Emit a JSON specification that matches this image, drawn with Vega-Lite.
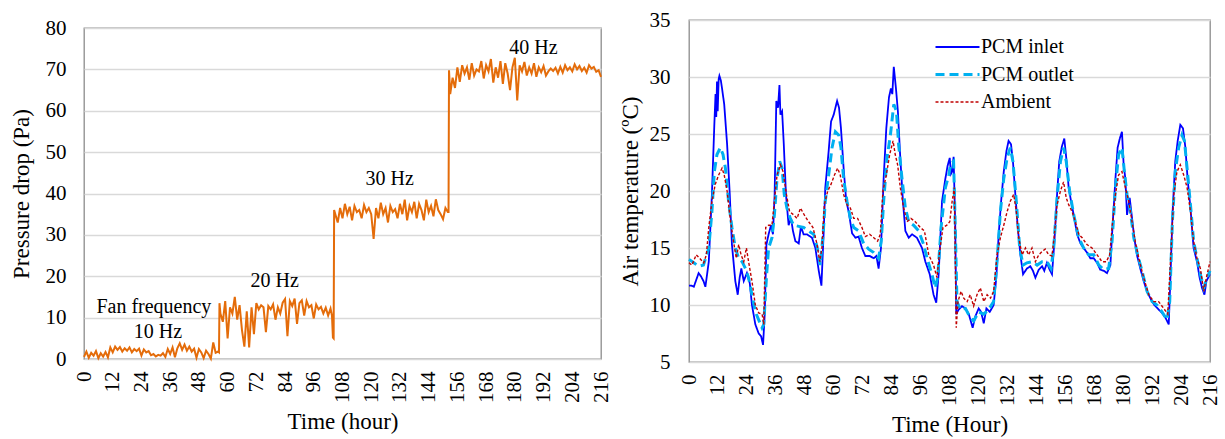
{
"$schema": "https://vega.github.io/schema/vega-lite/v6.json",
"background": "white",
"padding": {"left": 9, "top": 8, "right": 5, "bottom": 2},
"spacing": 6,
"resolve": {"scale": {"color": "independent", "strokeDash": "independent", "strokeWidth": "independent"}},
"config": {
  "font": "Liberation Serif",
  "view": {"stroke": "#8c8c8c", "strokeWidth": 1.3},
  "axis": {"labelFont": "Liberation Serif", "titleFont": "Liberation Serif", "labelFontSize": 21, "titleFontSize": 23, "titleFontWeight": "normal", "labelColor": "black", "titleColor": "black", "gridColor": "#d9d9d9", "gridWidth": 1.5, "domain": false, "ticks": false, "labelOverlap": false},
  "axisX": {"grid": false, "labelAngle": 270, "labelPadding": 12, "titlePadding": 8, "labelOverlap": false},
  "axisY": {"grid": true}
},
"datasets": {
  "pressure": [
{"t":0,"p":0.5},{"t":1,"p":1.8},{"t":2,"p":0.3},{"t":3,"p":1.5},{"t":4,"p":0.8},{"t":5,"p":1.9},{"t":6,"p":0.2},{"t":7,"p":1.4},{"t":8,"p":0.6},{"t":9,"p":1.7},{"t":10,"p":0.4},{"t":11,"p":2.8},{"t":12,"p":1.6},
{"t":13,"p":3.0},{"t":14,"p":2.2},{"t":15,"p":2.9},{"t":16,"p":1.8},{"t":17,"p":2.6},{"t":18,"p":2.0},{"t":19,"p":2.8},{"t":20,"p":1.6},{"t":21,"p":2.4},{"t":22,"p":1.9},{"t":23,"p":2.5},{"t":24,"p":0.8},{"t":25,"p":2.3},{"t":26,"p":1.6},{"t":27,"p":1.9},{"t":28,"p":0.9},{"t":29,"p":1.2},{"t":30,"p":0.6},{"t":31,"p":1.0},{"t":32,"p":0.8},{"t":33,"p":1.4},{"t":34,"p":0.5},{"t":35,"p":2.4},{"t":36,"p":1.2},{"t":37,"p":2.8},{"t":38,"p":0.4},{"t":39,"p":2.6},{"t":40,"p":3.8},{"t":41,"p":2.2},{"t":42,"p":3.5},{"t":43,"p":2.0},{"t":44,"p":3.0},{"t":45,"p":1.8},{"t":46,"p":2.5},{"t":47,"p":0.3},{"t":48,"p":2.4},{"t":49,"p":1.6},{"t":50,"p":0.2},{"t":51,"p":2.0},{"t":52,"p":1.2},{"t":53,"p":0.1},{"t":54,"p":4.0},{"t":55,"p":1.5},{"t":56,"p":1.8},{"t":56.4,"p":1.6},
{"t":56.6,"p":13.5},{"t":57,"p":11},{"t":58,"p":9},{"t":59,"p":14},{"t":60,"p":5},{"t":61,"p":12.5},{"t":62,"p":11},{"t":63,"p":15},{"t":64,"p":9.5},{"t":65,"p":13},{"t":66,"p":7},{"t":67,"p":3},{"t":68,"p":11.5},{"t":69,"p":2.8},{"t":70,"p":12.5},{"t":71,"p":6},{"t":72,"p":13.5},{"t":73,"p":12},{"t":74,"p":13},{"t":75,"p":12.5},{"t":76,"p":6.5},{"t":77,"p":12.8},{"t":78,"p":12},{"t":79,"p":13.2},{"t":80,"p":9.5},{"t":81,"p":12.5},{"t":82,"p":11},{"t":83,"p":13.6},{"t":84,"p":14.5},{"t":85,"p":5.5},{"t":86,"p":14},{"t":87,"p":12.8},{"t":88,"p":14.6},{"t":89,"p":8.5},{"t":90,"p":13.5},{"t":91,"p":14.2},{"t":92,"p":10.5},{"t":93,"p":14},{"t":94,"p":12.5},{"t":95,"p":13},{"t":96,"p":9.8},{"t":97,"p":13.2},{"t":98,"p":12},{"t":99,"p":12.6},{"t":100,"p":11},{"t":101,"p":12.4},{"t":102,"p":10.5},{"t":103,"p":12.2},{"t":103.6,"p":10.5},{"t":104,"p":5.2},{"t":104.3,"p":5.0},
{"t":104.5,"p":36},{"t":105,"p":35},{"t":106,"p":33},{"t":107,"p":36.5},{"t":108,"p":34},{"t":109,"p":37.5},{"t":110,"p":35},{"t":111,"p":36.8},{"t":112,"p":33.5},{"t":113,"p":37},{"t":114,"p":35.5},{"t":115,"p":36},{"t":116,"p":34},{"t":117,"p":37.2},{"t":118,"p":35.5},{"t":119,"p":36.5},{"t":120,"p":35},{"t":121,"p":29},{"t":122,"p":36.5},{"t":123,"p":34},{"t":124,"p":37.8},{"t":125,"p":35},{"t":126,"p":36.5},{"t":127,"p":33},{"t":128,"p":37},{"t":129,"p":35.5},{"t":130,"p":36.2},{"t":131,"p":34},{"t":132,"p":37.5},{"t":133,"p":35},{"t":134,"p":38.5},{"t":135,"p":33.5},{"t":136,"p":37},{"t":137,"p":35.5},{"t":138,"p":38},{"t":139,"p":34},{"t":140,"p":37.5},{"t":141,"p":36},{"t":142,"p":33.5},{"t":143,"p":38.5},{"t":144,"p":35.5},{"t":145,"p":37},{"t":146,"p":34.5},{"t":147,"p":38.6},{"t":148,"p":36},{"t":149,"p":35},{"t":150,"p":33.8},{"t":151,"p":36.5},{"t":152,"p":35.5},{"t":152.3,"p":35.5},
{"t":152.5,"p":69.8},{"t":153,"p":64},{"t":154,"p":68},{"t":155,"p":65.5},{"t":156,"p":70.5},{"t":157,"p":67},{"t":158,"p":71},{"t":159,"p":69},{"t":160,"p":70.5},{"t":161,"p":67.5},{"t":162,"p":71.5},{"t":163,"p":68.5},{"t":164,"p":70},{"t":165,"p":69.5},{"t":166,"p":72},{"t":167,"p":67.8},{"t":168,"p":71},{"t":169,"p":69.5},{"t":170,"p":72.5},{"t":171,"p":66.8},{"t":172,"p":70.5},{"t":173,"p":68},{"t":174,"p":72},{"t":175,"p":66.5},{"t":176,"p":71.5},{"t":177,"p":69},{"t":178,"p":65},{"t":179,"p":70.5},{"t":180,"p":72.8},{"t":181,"p":62.5},{"t":182,"p":71},{"t":183,"p":69.5},{"t":184,"p":71.8},{"t":185,"p":68.5},{"t":186,"p":70.5},{"t":187,"p":69},{"t":188,"p":71.5},{"t":189,"p":68.2},{"t":190,"p":70.5},{"t":191,"p":69.3},{"t":192,"p":70.8},{"t":193,"p":68.5},{"t":194,"p":69.5},{"t":195,"p":70.2},{"t":196,"p":69.6},{"t":197,"p":70.4},{"t":198,"p":69},{"t":199,"p":70.6},{"t":200,"p":69.2},{"t":201,"p":71},{"t":202,"p":69.8},{"t":203,"p":70.5},{"t":204,"p":69.5},{"t":205,"p":71.2},{"t":206,"p":70},{"t":207,"p":70.8},{"t":208,"p":69.6},{"t":209,"p":70.4},{"t":210,"p":69.2},{"t":211,"p":71},{"t":212,"p":70.2},{"t":213,"p":70.6},{"t":214,"p":69.4},{"t":215,"p":69.8},{"t":216,"p":68.2}
  ],
  "notes": [
{"t":29.2,"p":12.6,"label":"Fan frequency"},{"t":30.9,"p":6.5,"label":"10 Hz"},{"t":79.7,"p":18.9,"label":"20 Hz"},{"t":127.7,"p":43.4,"label":"30 Hz"},{"t":187.8,"p":75.2,"label":"40 Hz"}
  ],
  "temps": [
{"t":0,"v":11.7,"s":"PCM inlet"},{"t":1,"v":11.7,"s":"PCM inlet"},{"t":2,"v":11.6,"s":"PCM inlet"},{"t":3,"v":12.2,"s":"PCM inlet"},{"t":4,"v":12.8,"s":"PCM inlet"},{"t":5,"v":12.5,"s":"PCM inlet"},{"t":6,"v":12.1,"s":"PCM inlet"},{"t":6.8,"v":11.6,"s":"PCM inlet"},{"t":8.2,"v":13.8,"s":"PCM inlet"},{"t":9.5,"v":19.7,"s":"PCM inlet"},{"t":10.5,"v":25.8,"s":"PCM inlet"},{"t":11,"v":28.5,"s":"PCM inlet"},{"t":11.3,"v":26.5,"s":"PCM inlet"},{"t":11.6,"v":29.6,"s":"PCM inlet"},{"t":11.9,"v":27.0,"s":"PCM inlet"},{"t":12.3,"v":29.8,"s":"PCM inlet"},{"t":12.6,"v":30.1,"s":"PCM inlet"},{"t":13.2,"v":29.7,"s":"PCM inlet"},{"t":13.7,"v":29.0,"s":"PCM inlet"},{"t":14.6,"v":27.6,"s":"PCM inlet"},{"t":15.8,"v":24.1,"s":"PCM inlet"},{"t":16.9,"v":19.7,"s":"PCM inlet"},{"t":17.8,"v":15.3,"s":"PCM inlet"},{"t":19.2,"v":12.1,"s":"PCM inlet"},{"t":20.2,"v":10.9,"s":"PCM inlet"},{"t":21,"v":12.4,"s":"PCM inlet"},{"t":21.7,"v":13.2,"s":"PCM inlet"},{"t":22.7,"v":12.1,"s":"PCM inlet"},{"t":24,"v":12.8,"s":"PCM inlet"},{"t":25.2,"v":11.9,"s":"PCM inlet"},{"t":26.1,"v":10.0,"s":"PCM inlet"},{"t":27.5,"v":8.3,"s":"PCM inlet"},{"t":28.9,"v":7.5,"s":"PCM inlet"},{"t":29.9,"v":7.25,"s":"PCM inlet"},{"t":30.7,"v":6.5,"s":"PCM inlet"},{"t":31.4,"v":9.2,"s":"PCM inlet"},{"t":32.1,"v":15.3,"s":"PCM inlet"},{"t":33,"v":16.2,"s":"PCM inlet"},{"t":34,"v":17.0,"s":"PCM inlet"},{"t":34.8,"v":16.2,"s":"PCM inlet"},{"t":35.5,"v":19.7,"s":"PCM inlet"},{"t":36.2,"v":27.9,"s":"PCM inlet"},{"t":36.9,"v":27.3,"s":"PCM inlet"},{"t":37.5,"v":29.3,"s":"PCM inlet"},{"t":37.9,"v":26.7,"s":"PCM inlet"},{"t":38.6,"v":27.0,"s":"PCM inlet"},{"t":39.3,"v":24.1,"s":"PCM inlet"},{"t":40.2,"v":19.7,"s":"PCM inlet"},{"t":41.3,"v":17.0,"s":"PCM inlet"},{"t":42.3,"v":17.6,"s":"PCM inlet"},{"t":43.1,"v":16.5,"s":"PCM inlet"},{"t":44.1,"v":15.6,"s":"PCM inlet"},{"t":45.5,"v":15.4,"s":"PCM inlet"},{"t":46.4,"v":16.9,"s":"PCM inlet"},{"t":47.5,"v":16.2,"s":"PCM inlet"},{"t":48.9,"v":16.2,"s":"PCM inlet"},{"t":51,"v":15.9,"s":"PCM inlet"},{"t":52.4,"v":15.0,"s":"PCM inlet"},{"t":53.8,"v":13.0,"s":"PCM inlet"},{"t":54.9,"v":11.7,"s":"PCM inlet"},{"t":55.8,"v":16.2,"s":"PCM inlet"},{"t":56.5,"v":20.3,"s":"PCM inlet"},{"t":57.9,"v":23.5,"s":"PCM inlet"},{"t":58.9,"v":26.1,"s":"PCM inlet"},{"t":60,"v":26.7,"s":"PCM inlet"},{"t":61.4,"v":27.9,"s":"PCM inlet"},{"t":62.2,"v":27.3,"s":"PCM inlet"},{"t":63,"v":25.5,"s":"PCM inlet"},{"t":64.1,"v":22.0,"s":"PCM inlet"},{"t":65.2,"v":19.1,"s":"PCM inlet"},{"t":66.2,"v":18.2,"s":"PCM inlet"},{"t":67.6,"v":16.3,"s":"PCM inlet"},{"t":69,"v":15.9,"s":"PCM inlet"},{"t":70.3,"v":16.0,"s":"PCM inlet"},{"t":71.7,"v":15.0,"s":"PCM inlet"},{"t":73.1,"v":14.3,"s":"PCM inlet"},{"t":74.9,"v":14.3,"s":"PCM inlet"},{"t":76.6,"v":14.1,"s":"PCM inlet"},{"t":77.7,"v":14.3,"s":"PCM inlet"},{"t":78.6,"v":13.2,"s":"PCM inlet"},{"t":79.6,"v":15.0,"s":"PCM inlet"},{"t":80.7,"v":21.1,"s":"PCM inlet"},{"t":81.8,"v":25.5,"s":"PCM inlet"},{"t":82.9,"v":28.2,"s":"PCM inlet"},{"t":83.7,"v":29.0,"s":"PCM inlet"},{"t":84.3,"v":28.5,"s":"PCM inlet"},{"t":84.9,"v":30.9,"s":"PCM inlet"},{"t":85.8,"v":29.0,"s":"PCM inlet"},{"t":86.6,"v":27.0,"s":"PCM inlet"},{"t":87.6,"v":22.9,"s":"PCM inlet"},{"t":88.7,"v":19.1,"s":"PCM inlet"},{"t":89.7,"v":16.5,"s":"PCM inlet"},{"t":91.1,"v":15.9,"s":"PCM inlet"},{"t":92.5,"v":16.2,"s":"PCM inlet"},{"t":94.5,"v":15.9,"s":"PCM inlet"},{"t":96.6,"v":15.0,"s":"PCM inlet"},{"t":98,"v":13.8,"s":"PCM inlet"},{"t":99.8,"v":12.7,"s":"PCM inlet"},{"t":101.4,"v":10.9,"s":"PCM inlet"},{"t":102.5,"v":10.2,"s":"PCM inlet"},{"t":103.5,"v":12.7,"s":"PCM inlet"},{"t":104.9,"v":19.1,"s":"PCM inlet"},{"t":106.3,"v":21.1,"s":"PCM inlet"},{"t":107.2,"v":22.2,"s":"PCM inlet"},{"t":108.1,"v":22.9,"s":"PCM inlet"},{"t":108.6,"v":21.5,"s":"PCM inlet"},{"t":109.1,"v":21.7,"s":"PCM inlet"},{"t":109.7,"v":23.0,"s":"PCM inlet"},{"t":110.4,"v":16.8,"s":"PCM inlet"},{"t":110.8,"v":9.2,"s":"PCM inlet"},{"t":111.8,"v":9.6,"s":"PCM inlet"},{"t":113.2,"v":9.9,"s":"PCM inlet"},{"t":114.6,"v":9.7,"s":"PCM inlet"},{"t":116,"v":9.2,"s":"PCM inlet"},{"t":117.6,"v":8.0,"s":"PCM inlet"},{"t":118.7,"v":9.0,"s":"PCM inlet"},{"t":120.1,"v":9.7,"s":"PCM inlet"},{"t":121.1,"v":9.4,"s":"PCM inlet"},{"t":122.2,"v":8.4,"s":"PCM inlet"},{"t":123.3,"v":9.7,"s":"PCM inlet"},{"t":124.7,"v":9.4,"s":"PCM inlet"},{"t":126.3,"v":10.0,"s":"PCM inlet"},{"t":127.4,"v":12.4,"s":"PCM inlet"},{"t":128.4,"v":16.2,"s":"PCM inlet"},{"t":129.4,"v":19.1,"s":"PCM inlet"},{"t":130.5,"v":21.7,"s":"PCM inlet"},{"t":131.6,"v":23.5,"s":"PCM inlet"},{"t":132.5,"v":24.4,"s":"PCM inlet"},{"t":133.5,"v":24.1,"s":"PCM inlet"},{"t":134.3,"v":22.6,"s":"PCM inlet"},{"t":135.3,"v":19.7,"s":"PCM inlet"},{"t":136.3,"v":16.8,"s":"PCM inlet"},{"t":137.4,"v":14.4,"s":"PCM inlet"},{"t":138.5,"v":12.7,"s":"PCM inlet"},{"t":140.1,"v":13.2,"s":"PCM inlet"},{"t":141.5,"v":13.4,"s":"PCM inlet"},{"t":142.6,"v":13.0,"s":"PCM inlet"},{"t":143.6,"v":12.4,"s":"PCM inlet"},{"t":145,"v":13.1,"s":"PCM inlet"},{"t":146.4,"v":13.4,"s":"PCM inlet"},{"t":147.3,"v":13.0,"s":"PCM inlet"},{"t":148.4,"v":13.7,"s":"PCM inlet"},{"t":149.5,"v":13.1,"s":"PCM inlet"},{"t":150.5,"v":12.7,"s":"PCM inlet"},{"t":151.5,"v":15.6,"s":"PCM inlet"},{"t":152.6,"v":19.7,"s":"PCM inlet"},{"t":153.5,"v":22.6,"s":"PCM inlet"},{"t":154.6,"v":23.9,"s":"PCM inlet"},{"t":155.6,"v":24.6,"s":"PCM inlet"},{"t":156.4,"v":22.9,"s":"PCM inlet"},{"t":157.4,"v":20.3,"s":"PCM inlet"},{"t":158.4,"v":19.1,"s":"PCM inlet"},{"t":159.5,"v":17.9,"s":"PCM inlet"},{"t":160.9,"v":16.2,"s":"PCM inlet"},{"t":162.3,"v":15.4,"s":"PCM inlet"},{"t":163.6,"v":15.0,"s":"PCM inlet"},{"t":165,"v":14.6,"s":"PCM inlet"},{"t":166.4,"v":14.1,"s":"PCM inlet"},{"t":167.8,"v":14.1,"s":"PCM inlet"},{"t":169.2,"v":13.7,"s":"PCM inlet"},{"t":170.5,"v":13.1,"s":"PCM inlet"},{"t":172,"v":13.0,"s":"PCM inlet"},{"t":173.3,"v":12.8,"s":"PCM inlet"},{"t":174.7,"v":13.5,"s":"PCM inlet"},{"t":175.4,"v":16.2,"s":"PCM inlet"},{"t":176.8,"v":21.1,"s":"PCM inlet"},{"t":177.7,"v":23.8,"s":"PCM inlet"},{"t":178.6,"v":24.6,"s":"PCM inlet"},{"t":179.5,"v":25.2,"s":"PCM inlet"},{"t":180.2,"v":22.3,"s":"PCM inlet"},{"t":180.9,"v":21.1,"s":"PCM inlet"},{"t":181.6,"v":17.9,"s":"PCM inlet"},{"t":182.7,"v":19.4,"s":"PCM inlet"},{"t":183.7,"v":17.6,"s":"PCM inlet"},{"t":184.6,"v":15.9,"s":"PCM inlet"},{"t":185.7,"v":14.4,"s":"PCM inlet"},{"t":187.1,"v":13.2,"s":"PCM inlet"},{"t":188.5,"v":12.1,"s":"PCM inlet"},{"t":189.9,"v":11.2,"s":"PCM inlet"},{"t":191.5,"v":10.5,"s":"PCM inlet"},{"t":192.9,"v":10.0,"s":"PCM inlet"},{"t":194.3,"v":9.7,"s":"PCM inlet"},{"t":196.1,"v":9.3,"s":"PCM inlet"},{"t":197.5,"v":8.9,"s":"PCM inlet"},{"t":198.9,"v":8.3,"s":"PCM inlet"},{"t":199.6,"v":12.4,"s":"PCM inlet"},{"t":200.5,"v":18.2,"s":"PCM inlet"},{"t":201.6,"v":22.6,"s":"PCM inlet"},{"t":202.6,"v":24.4,"s":"PCM inlet"},{"t":203.7,"v":25.8,"s":"PCM inlet"},{"t":204.8,"v":25.5,"s":"PCM inlet"},{"t":205.8,"v":23.8,"s":"PCM inlet"},{"t":206.7,"v":21.1,"s":"PCM inlet"},{"t":207.9,"v":18.5,"s":"PCM inlet"},{"t":209.2,"v":15.0,"s":"PCM inlet"},{"t":210.6,"v":13.8,"s":"PCM inlet"},{"t":211.7,"v":12.4,"s":"PCM inlet"},{"t":212.7,"v":11.5,"s":"PCM inlet"},{"t":213.7,"v":10.9,"s":"PCM inlet"},{"t":214.5,"v":12.1,"s":"PCM inlet"},{"t":215.5,"v":12.5,"s":"PCM inlet"},{"t":216,"v":12.7,"s":"PCM inlet"},
{"t":0,"v":14.0,"s":"PCM outlet"},{"t":2,"v":13.7,"s":"PCM outlet"},{"t":4,"v":13.4,"s":"PCM outlet"},{"t":6,"v":13.5,"s":"PCM outlet"},{"t":8.2,"v":15.0,"s":"PCM outlet"},{"t":9.5,"v":18.2,"s":"PCM outlet"},{"t":10.5,"v":21.7,"s":"PCM outlet"},{"t":11.6,"v":23.2,"s":"PCM outlet"},{"t":13,"v":23.8,"s":"PCM outlet"},{"t":14.1,"v":23.2,"s":"PCM outlet"},{"t":15.1,"v":22.0,"s":"PCM outlet"},{"t":16.4,"v":19.1,"s":"PCM outlet"},{"t":17.8,"v":16.8,"s":"PCM outlet"},{"t":19.2,"v":15.0,"s":"PCM outlet"},{"t":20.6,"v":14.1,"s":"PCM outlet"},{"t":22,"v":13.8,"s":"PCM outlet"},{"t":23.4,"v":13.2,"s":"PCM outlet"},{"t":24.7,"v":12.4,"s":"PCM outlet"},{"t":26.1,"v":10.9,"s":"PCM outlet"},{"t":27.5,"v":9.4,"s":"PCM outlet"},{"t":28.9,"v":8.7,"s":"PCM outlet"},{"t":30.3,"v":8.0,"s":"PCM outlet"},{"t":31,"v":8.3,"s":"PCM outlet"},{"t":32.1,"v":12.4,"s":"PCM outlet"},{"t":33,"v":15.0,"s":"PCM outlet"},{"t":34.4,"v":15.9,"s":"PCM outlet"},{"t":35.4,"v":17.9,"s":"PCM outlet"},{"t":36.5,"v":21.1,"s":"PCM outlet"},{"t":37.6,"v":22.6,"s":"PCM outlet"},{"t":38.6,"v":22.0,"s":"PCM outlet"},{"t":39.5,"v":19.7,"s":"PCM outlet"},{"t":40.6,"v":18.5,"s":"PCM outlet"},{"t":42,"v":17.6,"s":"PCM outlet"},{"t":43.4,"v":17.0,"s":"PCM outlet"},{"t":45.5,"v":16.9,"s":"PCM outlet"},{"t":47.5,"v":16.8,"s":"PCM outlet"},{"t":49.6,"v":16.5,"s":"PCM outlet"},{"t":51.7,"v":16.2,"s":"PCM outlet"},{"t":53.1,"v":15.1,"s":"PCM outlet"},{"t":54.4,"v":13.5,"s":"PCM outlet"},{"t":55.6,"v":16.2,"s":"PCM outlet"},{"t":56.5,"v":19.1,"s":"PCM outlet"},{"t":57.9,"v":21.4,"s":"PCM outlet"},{"t":59.3,"v":23.8,"s":"PCM outlet"},{"t":60.7,"v":25.2,"s":"PCM outlet"},{"t":62.1,"v":24.9,"s":"PCM outlet"},{"t":63,"v":23.8,"s":"PCM outlet"},{"t":64.1,"v":21.1,"s":"PCM outlet"},{"t":65.5,"v":19.1,"s":"PCM outlet"},{"t":66.9,"v":17.6,"s":"PCM outlet"},{"t":68.3,"v":16.8,"s":"PCM outlet"},{"t":70.3,"v":16.5,"s":"PCM outlet"},{"t":72.4,"v":15.4,"s":"PCM outlet"},{"t":74.5,"v":14.9,"s":"PCM outlet"},{"t":76.6,"v":14.6,"s":"PCM outlet"},{"t":78.6,"v":14.1,"s":"PCM outlet"},{"t":79.7,"v":15.6,"s":"PCM outlet"},{"t":80.7,"v":19.1,"s":"PCM outlet"},{"t":82.1,"v":22.9,"s":"PCM outlet"},{"t":83.5,"v":24.9,"s":"PCM outlet"},{"t":84.9,"v":27.6,"s":"PCM outlet"},{"t":86,"v":27.0,"s":"PCM outlet"},{"t":86.9,"v":24.1,"s":"PCM outlet"},{"t":88.3,"v":21.1,"s":"PCM outlet"},{"t":89.7,"v":18.5,"s":"PCM outlet"},{"t":91.1,"v":17.3,"s":"PCM outlet"},{"t":93.1,"v":17.0,"s":"PCM outlet"},{"t":95.2,"v":16.5,"s":"PCM outlet"},{"t":97.3,"v":15.3,"s":"PCM outlet"},{"t":98.7,"v":14.1,"s":"PCM outlet"},{"t":100.7,"v":12.7,"s":"PCM outlet"},{"t":102.1,"v":11.5,"s":"PCM outlet"},{"t":103.1,"v":12.4,"s":"PCM outlet"},{"t":104.5,"v":16.8,"s":"PCM outlet"},{"t":106.3,"v":20.3,"s":"PCM outlet"},{"t":107.7,"v":21.4,"s":"PCM outlet"},{"t":108.4,"v":22.3,"s":"PCM outlet"},{"t":109.7,"v":22.6,"s":"PCM outlet"},{"t":110.4,"v":16.8,"s":"PCM outlet"},{"t":111.1,"v":10.3,"s":"PCM outlet"},{"t":112.5,"v":9.6,"s":"PCM outlet"},{"t":114.6,"v":9.7,"s":"PCM outlet"},{"t":116.6,"v":8.9,"s":"PCM outlet"},{"t":118,"v":8.6,"s":"PCM outlet"},{"t":120.1,"v":9.4,"s":"PCM outlet"},{"t":122.2,"v":9.2,"s":"PCM outlet"},{"t":124.2,"v":9.6,"s":"PCM outlet"},{"t":126.3,"v":10.3,"s":"PCM outlet"},{"t":127.7,"v":13.8,"s":"PCM outlet"},{"t":129.1,"v":18.2,"s":"PCM outlet"},{"t":130.5,"v":21.1,"s":"PCM outlet"},{"t":131.9,"v":22.9,"s":"PCM outlet"},{"t":133.2,"v":23.8,"s":"PCM outlet"},{"t":134.3,"v":22.6,"s":"PCM outlet"},{"t":135.7,"v":19.1,"s":"PCM outlet"},{"t":137.1,"v":15.0,"s":"PCM outlet"},{"t":138.5,"v":13.5,"s":"PCM outlet"},{"t":140.1,"v":13.7,"s":"PCM outlet"},{"t":142.2,"v":13.8,"s":"PCM outlet"},{"t":144.3,"v":13.5,"s":"PCM outlet"},{"t":146.4,"v":13.8,"s":"PCM outlet"},{"t":148.4,"v":13.8,"s":"PCM outlet"},{"t":150.1,"v":13.2,"s":"PCM outlet"},{"t":151.2,"v":15.0,"s":"PCM outlet"},{"t":152.6,"v":19.4,"s":"PCM outlet"},{"t":154,"v":22.6,"s":"PCM outlet"},{"t":155.3,"v":23.8,"s":"PCM outlet"},{"t":156.4,"v":22.6,"s":"PCM outlet"},{"t":157.8,"v":20.0,"s":"PCM outlet"},{"t":159.5,"v":17.9,"s":"PCM outlet"},{"t":161.6,"v":15.9,"s":"PCM outlet"},{"t":163.6,"v":15.0,"s":"PCM outlet"},{"t":165.7,"v":14.4,"s":"PCM outlet"},{"t":167.8,"v":14.4,"s":"PCM outlet"},{"t":169.9,"v":13.5,"s":"PCM outlet"},{"t":172,"v":13.1,"s":"PCM outlet"},{"t":174,"v":13.2,"s":"PCM outlet"},{"t":175.4,"v":15.6,"s":"PCM outlet"},{"t":176.8,"v":20.3,"s":"PCM outlet"},{"t":178.1,"v":23.2,"s":"PCM outlet"},{"t":179.5,"v":23.8,"s":"PCM outlet"},{"t":180.5,"v":21.7,"s":"PCM outlet"},{"t":181.6,"v":19.7,"s":"PCM outlet"},{"t":183,"v":18.2,"s":"PCM outlet"},{"t":184.4,"v":15.9,"s":"PCM outlet"},{"t":186,"v":14.4,"s":"PCM outlet"},{"t":187.8,"v":13.0,"s":"PCM outlet"},{"t":189.9,"v":11.2,"s":"PCM outlet"},{"t":192,"v":10.3,"s":"PCM outlet"},{"t":194,"v":10.0,"s":"PCM outlet"},{"t":196.1,"v":9.4,"s":"PCM outlet"},{"t":198.2,"v":8.7,"s":"PCM outlet"},{"t":199.3,"v":10.3,"s":"PCM outlet"},{"t":200.4,"v":17.3,"s":"PCM outlet"},{"t":201.6,"v":21.7,"s":"PCM outlet"},{"t":203,"v":23.8,"s":"PCM outlet"},{"t":204.4,"v":24.9,"s":"PCM outlet"},{"t":205.4,"v":24.4,"s":"PCM outlet"},{"t":206.5,"v":22.0,"s":"PCM outlet"},{"t":207.9,"v":18.8,"s":"PCM outlet"},{"t":209.2,"v":15.6,"s":"PCM outlet"},{"t":210.6,"v":14.1,"s":"PCM outlet"},{"t":212,"v":12.7,"s":"PCM outlet"},{"t":213.4,"v":11.5,"s":"PCM outlet"},{"t":214.8,"v":12.4,"s":"PCM outlet"},{"t":216,"v":13.0,"s":"PCM outlet"},
{"t":0,"v":13.7,"s":"Ambient"},{"t":1.2,"v":13.5,"s":"Ambient"},{"t":3,"v":14.4,"s":"Ambient"},{"t":4.4,"v":14.1,"s":"Ambient"},{"t":6.1,"v":13.7,"s":"Ambient"},{"t":7.2,"v":14.4,"s":"Ambient"},{"t":8.2,"v":16.8,"s":"Ambient"},{"t":9.5,"v":19.1,"s":"Ambient"},{"t":10.9,"v":20.6,"s":"Ambient"},{"t":12.3,"v":21.4,"s":"Ambient"},{"t":13.7,"v":22.0,"s":"Ambient"},{"t":14.6,"v":21.4,"s":"Ambient"},{"t":15.8,"v":20.0,"s":"Ambient"},{"t":16.9,"v":17.9,"s":"Ambient"},{"t":18.2,"v":15.9,"s":"Ambient"},{"t":19.6,"v":14.1,"s":"Ambient"},{"t":20.6,"v":15.3,"s":"Ambient"},{"t":21.6,"v":14.4,"s":"Ambient"},{"t":22.7,"v":13.8,"s":"Ambient"},{"t":23.8,"v":15.0,"s":"Ambient"},{"t":24.7,"v":13.8,"s":"Ambient"},{"t":26.1,"v":12.1,"s":"Ambient"},{"t":27.5,"v":10.0,"s":"Ambient"},{"t":28.9,"v":9.3,"s":"Ambient"},{"t":30.3,"v":9.2,"s":"Ambient"},{"t":31,"v":8.3,"s":"Ambient"},{"t":31.8,"v":16.8,"s":"Ambient"},{"t":33,"v":17.0,"s":"Ambient"},{"t":34.4,"v":17.0,"s":"Ambient"},{"t":35.4,"v":19.1,"s":"Ambient"},{"t":36.5,"v":21.4,"s":"Ambient"},{"t":37.9,"v":22.3,"s":"Ambient"},{"t":39,"v":21.7,"s":"Ambient"},{"t":40.4,"v":19.7,"s":"Ambient"},{"t":41.7,"v":18.2,"s":"Ambient"},{"t":43.4,"v":17.9,"s":"Ambient"},{"t":44.8,"v":17.6,"s":"Ambient"},{"t":46.2,"v":18.5,"s":"Ambient"},{"t":47.8,"v":17.9,"s":"Ambient"},{"t":49.6,"v":17.3,"s":"Ambient"},{"t":51.4,"v":16.8,"s":"Ambient"},{"t":53.1,"v":15.3,"s":"Ambient"},{"t":54.2,"v":13.8,"s":"Ambient"},{"t":55.1,"v":15.0,"s":"Ambient"},{"t":56.1,"v":18.8,"s":"Ambient"},{"t":57.5,"v":20.0,"s":"Ambient"},{"t":58.9,"v":20.6,"s":"Ambient"},{"t":60.3,"v":21.4,"s":"Ambient"},{"t":61.6,"v":22.0,"s":"Ambient"},{"t":62.7,"v":21.4,"s":"Ambient"},{"t":64.1,"v":19.7,"s":"Ambient"},{"t":65.5,"v":18.8,"s":"Ambient"},{"t":66.9,"v":18.5,"s":"Ambient"},{"t":68.3,"v":17.6,"s":"Ambient"},{"t":69.9,"v":17.6,"s":"Ambient"},{"t":71.7,"v":16.8,"s":"Ambient"},{"t":73.1,"v":16.0,"s":"Ambient"},{"t":74.9,"v":16.2,"s":"Ambient"},{"t":76.6,"v":15.9,"s":"Ambient"},{"t":78.2,"v":15.6,"s":"Ambient"},{"t":79.3,"v":16.2,"s":"Ambient"},{"t":80.4,"v":20.0,"s":"Ambient"},{"t":81.8,"v":21.4,"s":"Ambient"},{"t":83.2,"v":23.2,"s":"Ambient"},{"t":84.6,"v":24.4,"s":"Ambient"},{"t":85.5,"v":23.2,"s":"Ambient"},{"t":86.5,"v":22.3,"s":"Ambient"},{"t":87.6,"v":20.3,"s":"Ambient"},{"t":89,"v":18.5,"s":"Ambient"},{"t":90.4,"v":17.3,"s":"Ambient"},{"t":92,"v":17.6,"s":"Ambient"},{"t":93.8,"v":17.3,"s":"Ambient"},{"t":95.9,"v":16.8,"s":"Ambient"},{"t":97.6,"v":16.5,"s":"Ambient"},{"t":99.4,"v":14.4,"s":"Ambient"},{"t":101.4,"v":13.5,"s":"Ambient"},{"t":102.8,"v":12.4,"s":"Ambient"},{"t":103.9,"v":14.7,"s":"Ambient"},{"t":105.3,"v":16.8,"s":"Ambient"},{"t":106.9,"v":17.0,"s":"Ambient"},{"t":108.1,"v":17.3,"s":"Ambient"},{"t":109.1,"v":19.1,"s":"Ambient"},{"t":110,"v":20.3,"s":"Ambient"},{"t":110.4,"v":13.8,"s":"Ambient"},{"t":110.8,"v":8.0,"s":"Ambient"},{"t":111.5,"v":10.3,"s":"Ambient"},{"t":112.8,"v":11.2,"s":"Ambient"},{"t":113.9,"v":10.6,"s":"Ambient"},{"t":115.3,"v":10.3,"s":"Ambient"},{"t":116.6,"v":10.9,"s":"Ambient"},{"t":118,"v":9.9,"s":"Ambient"},{"t":119.4,"v":10.9,"s":"Ambient"},{"t":120.8,"v":11.5,"s":"Ambient"},{"t":122.2,"v":10.3,"s":"Ambient"},{"t":123.6,"v":10.9,"s":"Ambient"},{"t":125,"v":10.6,"s":"Ambient"},{"t":126.3,"v":11.2,"s":"Ambient"},{"t":127.7,"v":14.4,"s":"Ambient"},{"t":129.1,"v":15.9,"s":"Ambient"},{"t":130.5,"v":17.0,"s":"Ambient"},{"t":131.9,"v":18.2,"s":"Ambient"},{"t":133.2,"v":19.1,"s":"Ambient"},{"t":134.6,"v":19.7,"s":"Ambient"},{"t":135.7,"v":18.2,"s":"Ambient"},{"t":136.7,"v":15.9,"s":"Ambient"},{"t":138.1,"v":14.4,"s":"Ambient"},{"t":139.5,"v":15.0,"s":"Ambient"},{"t":140.8,"v":14.4,"s":"Ambient"},{"t":142.2,"v":15.0,"s":"Ambient"},{"t":143.6,"v":13.8,"s":"Ambient"},{"t":145,"v":14.4,"s":"Ambient"},{"t":146.4,"v":14.7,"s":"Ambient"},{"t":147.7,"v":14.9,"s":"Ambient"},{"t":149.1,"v":14.4,"s":"Ambient"},{"t":150.5,"v":14.3,"s":"Ambient"},{"t":151.5,"v":16.2,"s":"Ambient"},{"t":152.6,"v":18.8,"s":"Ambient"},{"t":154,"v":20.0,"s":"Ambient"},{"t":155.3,"v":20.8,"s":"Ambient"},{"t":156.4,"v":19.4,"s":"Ambient"},{"t":157.4,"v":18.8,"s":"Ambient"},{"t":158.8,"v":18.2,"s":"Ambient"},{"t":160.2,"v":17.3,"s":"Ambient"},{"t":161.6,"v":16.2,"s":"Ambient"},{"t":163,"v":15.9,"s":"Ambient"},{"t":165,"v":15.3,"s":"Ambient"},{"t":167.1,"v":15.0,"s":"Ambient"},{"t":169.2,"v":14.4,"s":"Ambient"},{"t":171.2,"v":13.8,"s":"Ambient"},{"t":173,"v":13.8,"s":"Ambient"},{"t":174.4,"v":14.4,"s":"Ambient"},{"t":175.4,"v":16.8,"s":"Ambient"},{"t":176.8,"v":19.7,"s":"Ambient"},{"t":178.1,"v":21.4,"s":"Ambient"},{"t":179.5,"v":21.7,"s":"Ambient"},{"t":180.9,"v":20.3,"s":"Ambient"},{"t":182.3,"v":19.1,"s":"Ambient"},{"t":183.7,"v":17.3,"s":"Ambient"},{"t":185,"v":15.6,"s":"Ambient"},{"t":186.8,"v":13.8,"s":"Ambient"},{"t":188.5,"v":12.4,"s":"Ambient"},{"t":190.6,"v":10.9,"s":"Ambient"},{"t":192.7,"v":10.3,"s":"Ambient"},{"t":194.7,"v":10.3,"s":"Ambient"},{"t":196.8,"v":9.7,"s":"Ambient"},{"t":198.5,"v":9.2,"s":"Ambient"},{"t":199.6,"v":13.8,"s":"Ambient"},{"t":201,"v":19.7,"s":"Ambient"},{"t":202.3,"v":21.7,"s":"Ambient"},{"t":203.7,"v":22.3,"s":"Ambient"},{"t":205.1,"v":21.4,"s":"Ambient"},{"t":206.5,"v":20.3,"s":"Ambient"},{"t":207.9,"v":18.2,"s":"Ambient"},{"t":209.2,"v":15.6,"s":"Ambient"},{"t":210.6,"v":14.1,"s":"Ambient"},{"t":212,"v":13.2,"s":"Ambient"},{"t":213.4,"v":11.2,"s":"Ambient"},{"t":214.5,"v":12.4,"s":"Ambient"},{"t":216,"v":13.8,"s":"Ambient"}
  ]
},
"hconcat": [
  {
    "vconcat": [
      {
        "width": 517, "height": 1,
        "view": {"stroke": null},
        "data": {"values": [{"a": 1}]},
        "mark": {"type": "point", "opacity": 0}
      },
      {
        "width": 517, "height": 331,
        "layer": [
          {
            "data": {"name": "pressure"},
            "mark": {"type": "line", "color": "#E46C0A", "strokeWidth": 2},
            "encoding": {
              "x": {"field": "t", "type": "quantitative", "scale": {"domain": [0, 216], "nice": false}, "axis": {"values": [0,12,24,36,48,60,72,84,96,108,120,132,144,156,168,180,192,204,216], "title": "Time (hour)", "labelOverlap": false}},
              "y": {"field": "p", "type": "quantitative", "scale": {"domain": [0, 80]}, "axis": {"values": [0,10,20,30,40,50,60,70,80], "title": "Pressure drop (Pa)", "labelPadding": 18, "titlePadding": 12}}
            }
          },
          {
            "data": {"name": "notes"},
            "mark": {"type": "text", "fontSize": 20, "font": "Liberation Serif", "color": "black"},
            "encoding": {
              "x": {"field": "t", "type": "quantitative", "axis": {"values": [0,12,24,36,48,60,72,84,96,108,120,132,144,156,168,180,192,204,216], "title": "Time (hour)", "labelOverlap": false}},
              "y": {"field": "p", "type": "quantitative"},
              "text": {"field": "label"}
            }
          }
        ]
      }
    ],
    "spacing": 7,
    "bounds": "flush"
  },
  {
    "width": 521, "height": 342,
    "data": {"name": "temps"},
    "mark": {"type": "line"},
    "encoding": {
      "x": {"field": "t", "type": "quantitative", "scale": {"domain": [0, 216], "nice": false}, "axis": {"values": [0,12,24,36,48,60,72,84,96,108,120,132,144,156,168,180,192,204,216], "title": "Time (Hour)", "labelOverlap": false}},
      "y": {"field": "v", "type": "quantitative", "scale": {"domain": [5, 35], "nice": false}, "axis": {"values": [5,10,15,20,25,30,35], "title": "Air temperature (ºC)", "labelPadding": 19, "titlePadding": 7}},
      "color": {"field": "s", "type": "nominal", "scale": {"domain": ["PCM inlet", "PCM outlet", "Ambient"], "range": ["#0000FF", "#00B0F0", "#C00000"]},
        "legend": {"title": null, "orient": "none", "legendX": 257, "legendY": 16, "padding": 0, "symbolType": "M-2.2,0H2.2", "symbolSize": 400, "labelFont": "Liberation Serif", "labelFontSize": 20, "labelColor": "black", "labelOffset": 12, "rowPadding": 6}},
      "strokeDash": {"field": "s", "type": "nominal", "scale": {"domain": ["PCM inlet", "PCM outlet", "Ambient"], "range": [[1, 0], [9, 5], [3, 2]]}},
      "strokeWidth": {"field": "s", "type": "nominal", "scale": {"type": "ordinal", "domain": ["PCM inlet", "PCM outlet", "Ambient"], "range": [1.8, 3, 1.4]}}
    }
  }
]
}
